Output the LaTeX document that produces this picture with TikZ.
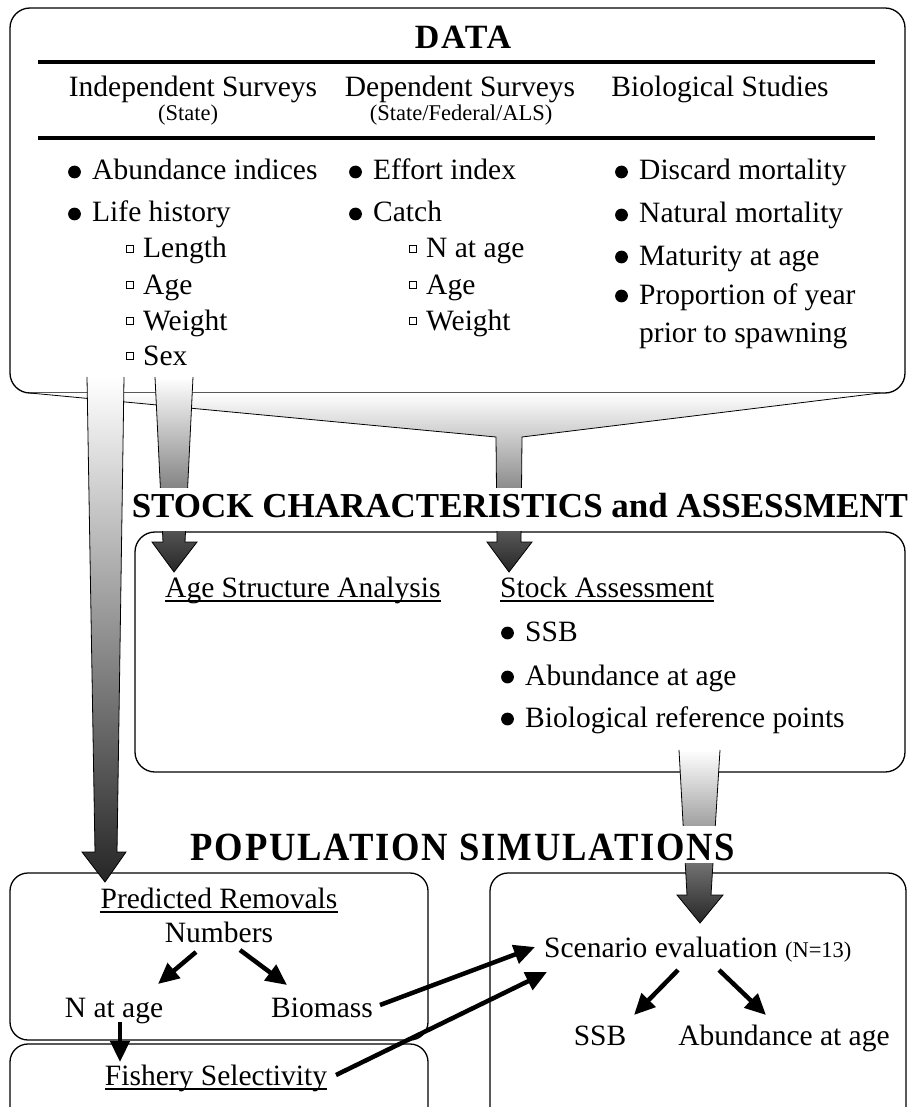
\documentclass[tikz,border=0pt]{standalone}
\usepackage{fontspec}
\setmainfont{Liberation Serif}
\usetikzlibrary{arrows.meta}
\newcommand\mainsz{\fontsize{29.5}{34}\selectfont}
\newcommand\smallsz{\fontsize{22.5}{26}\selectfont}
\newcommand\bitem[4]{\node[txt] (#1) at (#2,#3) {#4};
  \fill ([shift={(-17.5,-8)}]#1.base west) circle (6.4);}
\newcommand\sitem[4]{\node[txt] (#1) at (#2,#3) {#4};
  \draw[line width=0.9pt] ([shift={(-16.5,-13)}]#1.base west) rectangle ([shift={(-9.5,-6)}]#1.base west);}
\begin{document}
\begin{tikzpicture}[x=1pt,y=-1pt,
  txt/.style={inner sep=0pt, anchor=base west, font=\mainsz},
  ctxt/.style={inner sep=0pt, anchor=base, font=\mainsz},
  box/.style={draw, line width=1.3pt, rounded corners=20pt},
  hrule/.style={line width=3.5pt},
  blk/.style={line width=4.5pt, -{Triangle[length=21pt,width=19pt]}},
  fat/.style={draw=black, line width=0.8pt, line join=miter},
  shd/.style={top color=white, bottom color=black!85},
  uline/.style={line width=1.3pt}]
\useasboundingbox (0,0) rectangle (914,1107);
\clip (0,0) rectangle (914,1107);

% boxes
\draw[box] (10,8) rectangle (905,393);
\draw[box] (135,532) rectangle (905,772);
\draw[box, rounded corners=18pt] (10,873) rectangle (428,1040);
\draw[box, rounded corners=18pt] (10,1044) rectangle (428,1140);
\draw[box, rounded corners=18pt] (490,873) rectangle (906,1140);

% rules in DATA box
\draw[hrule] (38,62) -- (875,62);
\draw[hrule] (38,138) -- (875,138);

% funnel from DATA to stock assessment
\shade[shd] (30,393) -- (496,437) -- (497,542) -- (487,542) -- (509,572) -- (532,542) -- (521,542) -- (522,437) -- (880,393) -- cycle;
\draw[fat] (30,393) -- (496,437) -- (497,542) -- (487,542) -- (509,572) -- (532,542) -- (521,542) -- (522,437) -- (880,393);
% arrow to age structure
\shade[shd] (155,377) -- (163,542) -- (152,542) -- (174,572) -- (197,542) -- (185,542) -- (193,377) -- cycle;
\draw[fat] (155,377) -- (163,542) -- (152,542) -- (174,572) -- (197,542) -- (185,542) -- (193,377);
% long arrow to predicted removals
\shade[shd] (87,377) -- (95,852) -- (82,852) -- (105,882) -- (126,852) -- (117,852) -- (124,377) -- cycle;
\draw[fat] (87,377) -- (95,852) -- (82,852) -- (105,882) -- (126,852) -- (117,852) -- (124,377);
% funnel from stock box to simulations
\shade[shd] (679,750) -- (687,895) -- (677,895) -- (700,923) -- (723,895) -- (711,895) -- (720,750) -- cycle;
\draw[fat] (679,750) -- (687,895) -- (677,895) -- (700,923) -- (723,895) -- (711,895) -- (720,750);

% titles
\fill[white] (127,488) rectangle (912,531);
\node[inner sep=0pt, anchor=base, font=\bfseries\fontsize{35}{40}\selectfont] (stk) at (520,517) {STOCK CHARACTERISTICS and ASSESSMENT};
\fill[white] (180,826) rectangle (745,863);
\node[inner sep=0pt, anchor=base, font=\bfseries\fontsize{40}{44}\selectfont\addfontfeature{LetterSpace=5}] (pop) at (463,860) {\scalebox{0.915}[1]{POPULATION SIMULATIONS}};
\node[inner sep=0pt, anchor=base, font=\bfseries\fontsize{34}{38}\selectfont\addfontfeature{LetterSpace=5}] (data) at (463,49) {DATA};

% column headings
\node[ctxt] (ind) at (193,97) {Independent Surveys};
\node[ctxt, font=\smallsz] (inds) at (188,121) {(State)};
\node[ctxt] (dep) at (460,97) {Dependent Surveys};
\node[ctxt, font=\smallsz] (deps) at (461,121) {(State/Federal/ALS)};
\node[ctxt] (bio) at (720,97) {Biological Studies};

% left column
\bitem{abi}{92}{180}{Abundance indices}
\bitem{lh}{92}{222}{Life history}
\sitem{len}{143}{258}{Length}
\sitem{lage}{143}{294}{Age}
\sitem{lwt}{143}{330}{Weight}
\sitem{lsex}{143}{365}{Sex}
% middle column
\bitem{eff}{373}{180}{Effort index}
\bitem{cat}{373}{222}{Catch}
\sitem{mnat}{426}{258}{N at age}
\sitem{mage}{426}{294}{Age}
\sitem{mwt}{426}{330}{Weight}
% right column
\bitem{dis}{639}{180}{Discard mortality}
\bitem{nat}{639}{223}{Natural mortality}
\bitem{mat}{639}{265}{Maturity at age}
\bitem{prop}{639}{304}{Proportion of year}
\node[txt] (prior) at (639,342) {prior to spawning};

% stock box
\node[txt] (asa) at (165,597) {Age Structure Analysis};
\draw[uline] ([shift={(0,4)}]asa.base west) -- ([shift={(0,4)}]asa.base east);
\node[txt] (sa) at (500,597) {Stock Assessment};
\draw[uline] ([shift={(0,4)}]sa.base west) -- ([shift={(0,4)}]sa.base east);
\bitem{ssb1}{525}{641}{SSB}
\bitem{aaa1}{525}{685}{Abundance at age}
\bitem{brp}{525}{727}{Biological reference points}

% simulation boxes
\node[ctxt] (pr) at (219,908) {Predicted Removals};
\draw[uline] ([shift={(0,4)}]pr.base west) -- ([shift={(0,4)}]pr.base east);
\node[ctxt] (num) at (219,942) {Numbers};
\node[ctxt] (nage) at (114,1017) {N at age};
\node[ctxt] (bms) at (322,1017) {Biomass};
\node[ctxt] (fsh) at (216,1085) {Fishery Selectivity};
\draw[uline] ([shift={(0,4)}]fsh.base west) -- ([shift={(0,4)}]fsh.base east);
\node[txt] (scn) at (544,957) {Scenario evaluation {\smallsz(N=13)}};
\node[ctxt] (ssb2) at (600,1045) {SSB};
\node[ctxt] (aaa2) at (784,1045) {Abundance at age};

% connectors
\draw[blk] ([shift={(-23,10)}]num.base) -- ([shift={(44,-33)}]nage.base);
\draw[blk] ([shift={(21,8)}]num.base) -- ([shift={(-35,-32)}]bms.base);
\draw[blk] ([shift={(6,5)}]nage.base) -- ([shift={(-96,-23)}]fsh.base);
\draw[blk] ([shift={(58,-12)}]bms.base) -- ([shift={(-9,-10)}]scn.base west);
\draw[blk] ([shift={(120,-10)}]fsh.base) -- ([shift={(3,15)}]scn.base west);
\draw[blk] ([shift={(134,13)}]scn.base west) -- ([shift={(34,-30)}]ssb2.base);
\draw[blk] ([shift={(175,13)}]scn.base west) -- ([shift={(-18,-30)}]aaa2.base);
\end{tikzpicture}
\end{document}
